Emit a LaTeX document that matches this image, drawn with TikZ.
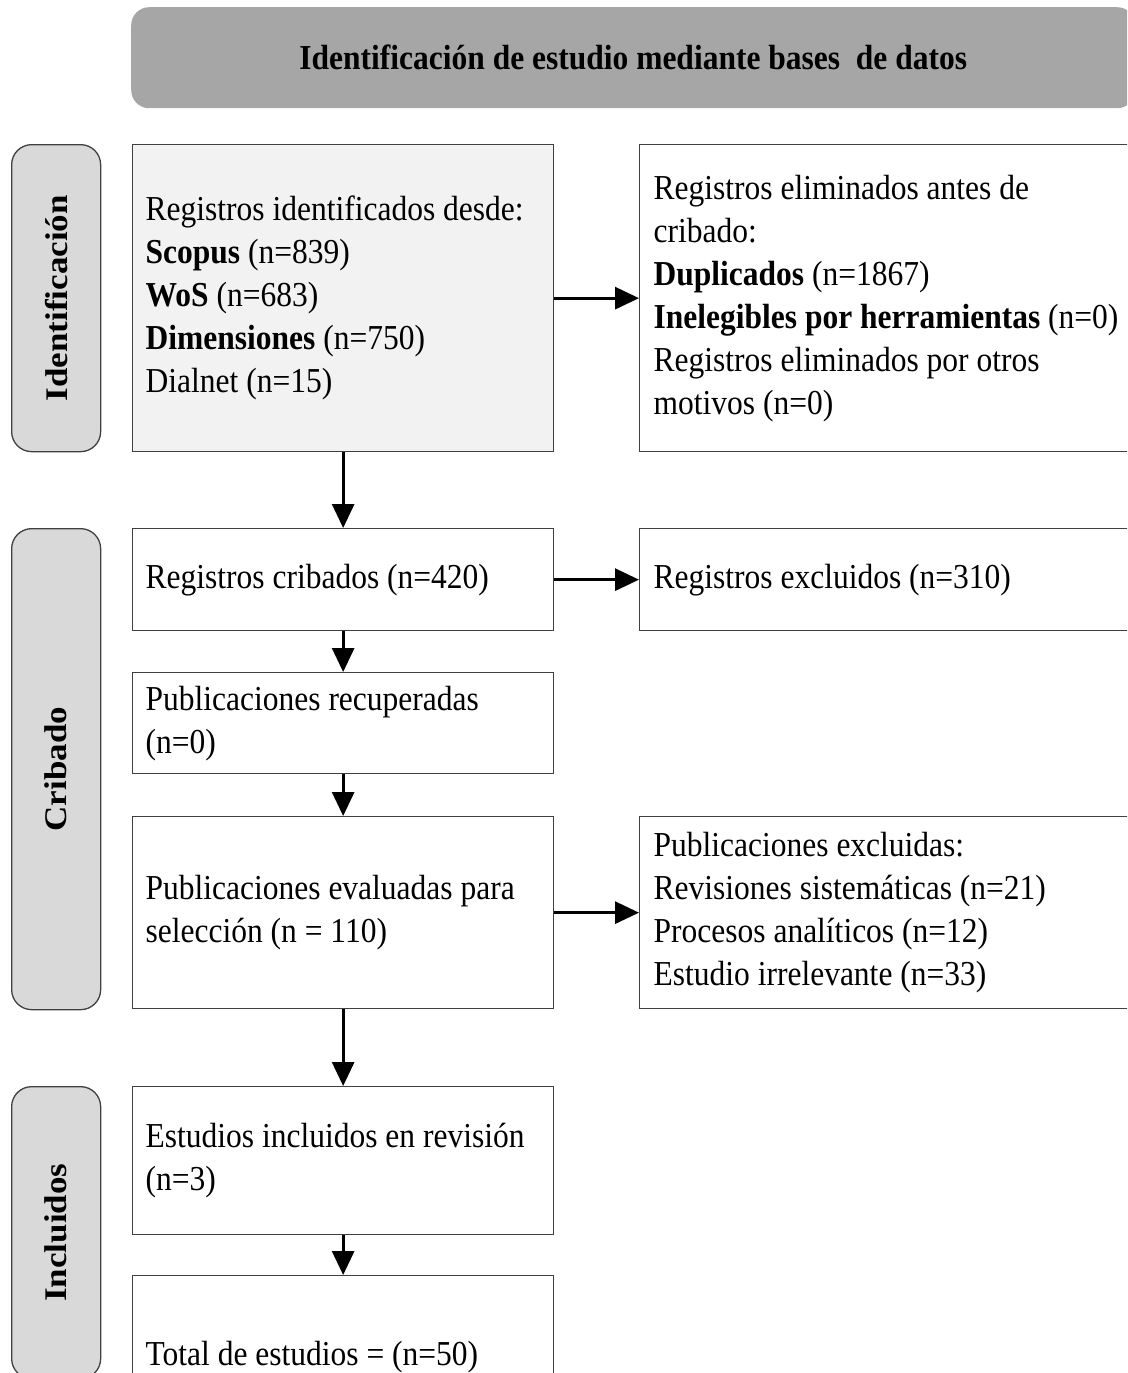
\documentclass[tikz,border=0pt]{standalone}
\usepackage{fontspec}
\setmainfont{Liberation Serif}[FakeStretch=0.9]
\newfontfamily\sidefont{Liberation Serif}
\usetikzlibrary{arrows.meta}

\definecolor{headfill}{HTML}{A6A6A6}
\definecolor{sidefill}{HTML}{D9D9D9}
\definecolor{firstfill}{HTML}{F2F2F2}
\definecolor{edge}{HTML}{404040}

\newcommand{\sidetext}[1]{\rotatebox{90}{\scalebox{1}[0.9]{\sidefont\bfseries\fontsize{35}{40}\selectfont #1}}}
% natural interword spacing inside the left-aligned boxes
\newcommand{\plainspaces}{\spaceskip=0pt\relax\xspaceskip=0pt\relax}

\begin{document}
\begin{tikzpicture}[x=1pt,y=-1pt,
  every node/.style={font=\fontsize{35}{43}\selectfont},
  stage/.style={draw=edge, line width=1.3pt, anchor=north west, inner sep=0pt,
    align=left, minimum width=421pt},
  leftbox/.style={stage, text width=395pt},
  rightbox/.style={stage, text width=480pt, minimum width=508pt},
  sidebox/.style={draw=edge, fill=sidefill, line width=1.3pt, rounded corners=20pt,
    anchor=north west, minimum width=89pt, inner sep=0pt},
  header/.style={fill=headfill, rounded corners=18pt, anchor=north west,
    minimum width=1004pt, minimum height=101pt, inner sep=0pt},
  flow/.style={line width=3pt, -{Triangle[width=22pt,length=24pt]}}
]
\useasboundingbox (0,0) rectangle (1127,1373);
\clip (0,0) rectangle (1127,1373);

% title bar
\node[header] (hdr) at (131,7)
  {\bfseries Identificación de estudio mediante bases\ \ de datos};

% phase labels
\node[sidebox, minimum height=307pt] (phaseA) at (11,144) {\sidetext{Identificación}};
\node[sidebox, minimum height=481pt] (phaseB) at (11,528) {\sidetext{Cribado}};
\node[sidebox, minimum height=292pt] (phaseC) at (11,1086) {\sidetext{Incluidos}};

% main column
\node[leftbox, fill=firstfill, minimum height=307pt] (ident) at (132,144)
  {\plainspaces Registros identificados desde:\\
   \textbf{Scopus} (n=839)\\
   \textbf{WoS} (n=683)\\
   \textbf{Dimensiones} (n=750)\\
   Dialnet (n=15)};
\node[leftbox, minimum height=102pt] (screen) at (132,528)
  {\plainspaces Registros cribados (n=420)};
\node[leftbox, minimum height=101pt] (retr) at (132,672)
  {\plainspaces Publicaciones recuperadas\\(n=0)};
\node[leftbox, minimum height=192pt] (assess) at (132,816)
  {\plainspaces Publicaciones evaluadas para\\selección (n = 110)};
\node[leftbox, minimum height=148pt] (incl) at (132,1086)
  {\plainspaces Estudios incluidos en revisión\\(n=3)};
\node[leftbox, minimum height=162pt] (total) at (132,1275)
  {\plainspaces Total de estudios = (n=50)};

% side column
\node[rightbox, minimum height=307pt] (removed) at (639,144)
  {\plainspaces Registros eliminados antes de\\
   cribado:\\
   \textbf{Duplicados} (n=1867)\\
   \textbf{Inelegibles por herramientas} (n=0)\\
   Registros eliminados por otros\\
   motivos (n=0)};
\node[rightbox, minimum height=102pt] (excl) at (639,528)
  {\plainspaces Registros excluidos (n=310)};
\node[rightbox, minimum height=192pt] (pubexcl) at (639,816)
  {\plainspaces Publicaciones excluidas:\\
   Revisiones sistemáticas (n=21)\\
   Procesos analíticos (n=12)\\
   Estudio irrelevante (n=33)};

% connectors
\draw[flow] (ident.south) -- (screen.north);
\draw[flow] (screen.south) -- (retr.north);
\draw[flow] (retr.south) -- (assess.north);
\draw[flow] (assess.south) -- (incl.north);
\draw[flow] (incl.south) -- (total.north);
\draw[flow] (ident.east) -- (removed.west);
\draw[flow] (screen.east) -- (excl.west);
\draw[flow] (assess.east) -- (pubexcl.west);
\end{tikzpicture}
\end{document}
